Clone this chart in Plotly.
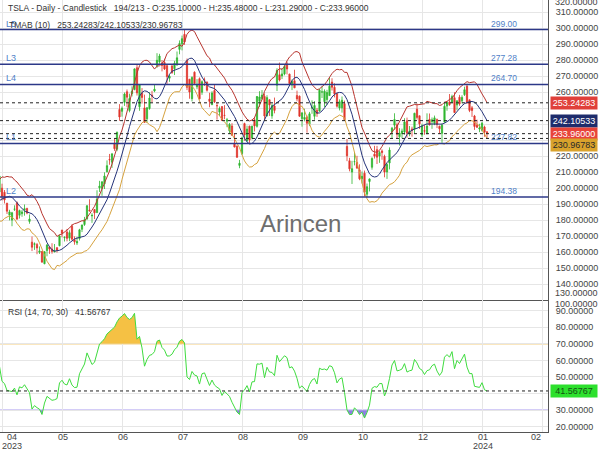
import numpy as np
import plotly.graph_objects as go

# ---------------- data ----------------
title_text = "TSLA - Daily - Candlestick\u00a0\u00a0\u00a0194/213 - O:235.10000 - H:235.48000 - L:231.29000 - C:233.96000"
tmab_text = "TMAB (10)\u00a0\u00a0\u00a0253.24283/242.10533/230.96783"
rsi_text = "RSI (14, 70, 30)\u00a0\u00a0\u00a041.56767"

# warm-up bars (March 2023, left of the visible window) for the indicators
warm_open = [206.21,186.74,194.80,198.54,191.38,185.04,180.25,175.13,167.46,177.31,180.80,180.37,180.25,178.08,188.28,199.30,194.42,191.65,194.42,192.00,193.13,195.58,197.53]
warm_high = [207.20,193.75,200.48,198.60,194.20,186.50,185.18,178.29,177.35,183.80,182.34,185.81,186.22,186.44,198.00,200.66,199.31,192.36,197.39,192.35,195.29,197.33,207.79]
warm_low = [198.52,186.01,192.88,192.30,186.10,180.00,172.51,168.44,163.91,177.14,176.03,178.84,177.33,176.35,188.04,190.95,188.65,187.15,189.94,185.43,189.44,194.42,197.20]
warm_close = [202.77,190.90,197.79,193.81,187.71,182.00,172.92,173.44,174.48,183.26,180.45,184.13,180.13,183.25,197.58,191.15,192.22,190.41,191.81,189.19,193.88,195.28,207.46]

# visible bars: 2023-04-03 ... 2024-01-10
opens = [199.91,197.32,190.52,183.08,179.94,186.69,190.74,182.96,183.95,186.32,187.15,179.10,166.17,164.80,164.65,159.82,160.29,152.64,160.90,
         163.17,161.88,160.01,162.71,163.97,173.72,168.95,172.55,168.70,176.07,167.66,165.65,168.41,174.22,177.17,180.70,186.20,182.56,186.54,184.62,200.10,199.78,
         202.59,210.15,217.80,216.14,228.00,224.22,249.07,247.94,253.51,260.17,248.40,258.92,261.50,275.13,250.77,259.29,250.07,243.24,249.70,258.03,260.60,
         276.49,278.82,278.09,278.43,276.47,268.65,276.33,274.59,277.01,286.63,290.15,296.04,279.56,268.00,255.85,272.38,263.25,268.31,259.86,267.48,
         266.26,255.57,252.04,260.97,251.45,247.45,250.87,245.40,241.77,235.70,238.73,228.02,226.06,214.12,221.55,240.25,229.34,238.66,231.31,242.58,238.58,254.20,255.98,
         257.26,245.00,255.14,245.07,251.22,264.27,270.76,270.07,271.32,277.55,271.16,264.35,267.04,257.85,257.40,243.38,242.98,244.26,240.02,250.00,
         244.81,248.61,248.14,260.00,253.98,255.31,257.75,266.20,262.92,258.90,250.05,250.10,252.70,225.95,217.01,210.00,216.50,215.88,211.32,205.82,209.28,196.12,
         204.04,212.97,221.15,223.98,219.98,223.15,219.75,210.03,215.60,235.03,239.29,239.49,232.00,234.04,235.04,242.04,233.75,236.89,236.68,249.21,245.14,
         233.14,235.75,233.87,242.92,241.55,240.27,242.74,238.55,234.15,241.22,251.21,253.78,253.48,256.41,251.90,256.76,254.49,258.35,263.66,255.10,
         250.08,244.98,239.25,236.86,236.14,238.11,235.10]
highs = [202.69,198.74,190.68,186.39,185.10,189.19,191.58,186.50,186.28,189.69,187.69,183.50,169.70,166.00,165.65,163.47,160.67,160.48,165.00,
         163.28,165.49,165.00,162.95,170.79,173.80,169.82,174.43,173.57,177.38,169.76,169.52,174.50,177.06,181.95,189.32,192.96,184.22,186.78,198.60,204.48,203.95,
         209.80,217.25,221.29,221.91,230.83,235.23,252.42,250.97,259.68,261.57,258.95,263.60,274.75,276.99,265.00,262.45,258.37,250.39,259.88,260.74,264.45,
         284.25,283.85,279.97,280.78,277.52,270.90,276.52,279.45,285.30,292.23,295.26,299.29,280.93,268.00,269.85,272.90,268.04,269.13,267.25,269.08,
         266.47,259.52,260.49,264.77,253.65,250.92,251.10,251.80,243.79,240.66,240.50,233.97,226.74,217.58,232.13,240.82,238.98,238.92,239.00,244.38,257.48,260.51,261.18,
         259.08,258.00,255.39,252.81,256.52,274.85,278.39,274.98,276.71,278.98,271.44,267.85,273.93,260.86,257.79,247.10,249.55,245.33,247.55,254.77,
         254.28,250.02,261.86,263.60,261.65,261.36,268.94,268.60,265.41,259.60,255.40,257.18,254.63,230.61,218.86,216.98,222.05,220.10,214.80,210.32,210.88,202.80,
         205.99,219.20,226.37,226.32,223.12,224.15,220.80,215.38,225.40,238.14,246.70,240.88,237.39,237.10,243.62,244.01,238.75,238.33,247.00,252.75,245.22,
         240.19,239.37,246.66,246.57,244.08,245.27,243.44,238.99,240.30,253.88,254.13,258.74,258.34,259.84,254.80,258.22,257.97,263.34,265.13,255.19,
         251.25,245.68,242.70,240.12,241.25,238.96,235.48]
lows = [192.20,190.32,183.76,179.74,176.11,185.65,180.31,180.94,182.01,182.69,183.58,177.65,160.56,161.32,158.61,158.75,153.14,152.37,157.32,
        158.83,158.93,159.91,159.65,163.51,169.19,166.56,166.68,166.79,167.23,164.55,164.35,167.19,172.45,176.31,180.11,185.26,178.22,180.58,184.53,197.53,195.12,
        199.37,209.75,214.52,212.53,223.20,223.01,242.02,244.59,251.34,250.50,247.29,257.21,261.12,257.78,248.25,252.80,240.70,240.85,248.89,253.61,259.89,
        275.11,277.60,272.88,273.77,265.10,266.37,271.46,270.60,276.31,283.57,286.01,289.52,261.20,255.80,254.12,265.00,261.75,255.30,258.23,263.78,
        260.25,250.49,252.00,253.11,242.76,245.01,241.90,243.00,238.02,233.75,232.61,225.38,218.83,212.36,220.58,229.55,229.29,228.18,230.35,235.35,237.77,250.59,255.05,
        242.01,244.86,245.06,243.27,246.67,260.61,266.60,268.10,270.42,271.00,263.76,261.20,262.46,254.21,244.48,238.31,241.66,234.58,238.65,246.35,
        242.62,244.45,247.60,256.25,250.65,252.05,257.65,260.90,256.63,250.22,248.48,247.08,242.08,216.78,210.42,202.51,214.11,212.20,204.88,202.80,194.67,194.07,
        197.85,211.45,218.40,215.00,215.72,217.64,206.68,205.69,211.61,230.72,236.45,230.96,226.54,231.02,233.34,231.40,232.33,232.10,234.01,242.76,236.91,
        231.90,233.29,233.70,239.17,236.98,239.27,237.45,233.87,228.20,240.79,248.30,251.36,253.01,247.00,248.55,251.37,252.91,257.52,252.71,247.43,
        244.41,236.32,237.73,234.90,235.30,232.04,231.29]
closes = [194.77,192.58,185.52,185.06,184.51,186.79,180.54,185.90,185.00,187.04,184.31,180.59,162.99,165.08,162.55,160.67,153.75,160.19,164.31,
          161.83,160.31,160.61,161.20,170.06,171.79,169.15,168.54,172.08,167.98,166.35,166.52,173.86,176.89,180.14,188.87,185.77,182.90,184.47,193.17,201.16,203.93,
          207.52,213.97,217.61,221.31,224.57,234.86,244.40,249.83,258.71,256.79,255.90,260.54,274.45,259.46,264.61,256.60,241.05,250.21,256.24,257.50,261.77,
          279.82,282.48,276.54,274.43,269.61,269.79,271.99,277.90,281.38,290.38,293.34,291.26,262.90,260.02,269.06,265.28,264.35,255.71,266.44,267.43,
          261.07,254.11,259.32,253.86,251.45,249.70,242.19,245.34,242.65,239.76,232.96,225.60,219.22,215.49,231.28,233.19,236.86,230.04,238.59,238.82,257.18,256.90,258.08,
          245.01,256.49,251.92,251.49,248.50,273.58,267.48,271.30,276.04,274.39,265.28,266.50,262.59,255.70,244.88,246.99,244.12,240.50,246.38,250.22,
          251.60,246.53,261.16,260.05,260.53,259.67,263.62,262.99,258.87,251.12,253.92,254.85,242.68,220.11,211.99,212.08,216.52,212.42,205.76,207.30,197.36,200.84,
          205.66,218.51,219.96,219.27,222.18,222.11,209.98,214.65,223.71,237.41,242.84,233.59,234.30,235.60,241.20,234.21,235.45,236.08,246.72,244.14,240.08,
          238.83,235.58,238.72,239.37,242.64,243.84,239.74,237.01,239.29,251.05,253.50,252.08,257.22,247.14,254.50,252.54,256.61,261.44,253.18,248.48,
          248.42,238.45,237.93,237.49,240.45,234.96,233.96]

# support / resistance levels
level_names = ["L1", "L2", "L3", "L4", "L5"]
level_values = [227.82, 194.38, 277.28, 264.70, 299.00]

# last indicator values shown in the price scale
last_upper, last_mid, last_close, last_lower = 253.24283, 242.10533, 233.96000, 230.96783
last_rsi = 41.56767

# x-axis tick labels (one every 24 bars): month, year (if any)
xtick_months = ["04", "05", "06", "07", "08", "09", "10", "12", "01", "02"]
xtick_years = ["2023", "", "", "", "", "", "", "", "2024", ""]
price_ticks = [140, 150, 160, 170, 180, 190, 200, 210, 220, 230, 240, 250, 260, 270, 280, 290, 300, 310]
rsi_ticks = [20, 30, 40, 50, 60, 70, 80, 90]

# ---------------- indicators ----------------
o = np.array(warm_open + opens, float)
h = np.array(warm_high + highs, float)
l = np.array(warm_low + lows, float)
c = np.array(warm_close + closes, float)
nw = len(warm_close)
idx = np.arange(len(c)) - nw


def sma(a, n):
    out = np.full(len(a), np.nan)
    for i in range(len(a)):
        if i >= n - 1:
            w = a[i - n + 1:i + 1]
            if not np.any(np.isnan(w)):
                out[i] = w.mean()
    return out


tma = sma(sma(c, 5), 6)
prev = np.concatenate([[c[0]], c[:-1]])
tr = np.maximum(h - l, np.maximum(np.abs(h - prev), np.abs(l - prev)))
atr = sma(tr, 10)
upper = tma + 1.5 * atr
lower = tma - 1.5 * atr

d = np.diff(c)
g = np.clip(d, 0, None)
ls = np.clip(-d, 0, None)
rsi = np.full(len(c), np.nan)
ag, al = g[:14].mean(), ls[:14].mean()
rsi[14] = 100 - 100 / (1 + ag / al)
for i in range(14, len(d)):
    ag = (ag * 13 + g[i]) / 14
    al = (al * 13 + ls[i]) / 14
    rsi[i + 1] = 100 - 100 / (1 + ag / al)


def clip_series(xs, ys, level, above):
    X, Y = [], []
    for i in range(len(xs)):
        if i > 0:
            y0, y1 = ys[i - 1], ys[i]
            if (y0 - level) * (y1 - level) < 0:
                t = (level - y0) / (y1 - y0)
                X.append(xs[i - 1] + t * (xs[i] - xs[i - 1]))
                Y.append(level)
        X.append(xs[i])
        Y.append(max(ys[i], level) if above else min(ys[i], level))
    return X, Y


# ---------------- figure ----------------
GREEN = "#2fb52f"
RED = "#e0352b"
PW, PH = 548.0, 432.0
SPLIT = 300.0


def px(xp):
    return xp / PW


def py(yp):
    return 1 - yp / PH


fig = go.Figure()

fig.add_trace(go.Candlestick(
    x=idx, open=o, high=h, low=l, close=c,
    increasing=dict(line=dict(color=GREEN, width=0.8), fillcolor=GREEN),
    decreasing=dict(line=dict(color=RED, width=0.8), fillcolor=RED),
    whiskerwidth=0, xaxis="x", yaxis="y", hoverinfo="skip"))

valid = ~np.isnan(upper)
fig.add_trace(go.Scatter(x=idx[valid], y=upper[valid], mode="lines", line=dict(color="#b8352f", width=1), xaxis="x", yaxis="y"))
fig.add_trace(go.Scatter(x=idx[valid], y=tma[valid], mode="lines", line=dict(color="#26347a", width=1), xaxis="x", yaxis="y"))
fig.add_trace(go.Scatter(x=idx[valid], y=lower[valid], mode="lines", line=dict(color="#d6a23e", width=1), xaxis="x", yaxis="y"))

rv = ~np.isnan(rsi)
rx, ry = list(idx[rv]), list(rsi[rv])
X70, Y70 = clip_series(rx, ry, 70, True)
X30, Y30 = clip_series(rx, ry, 30, False)
fig.add_trace(go.Scatter(x=X70, y=[70] * len(X70), mode="lines", line=dict(width=0), xaxis="x2", yaxis="y2"))
fig.add_trace(go.Scatter(x=X70, y=Y70, mode="lines", line=dict(width=0), fill="tonexty", fillcolor="#f5c144", xaxis="x2", yaxis="y2"))
fig.add_trace(go.Scatter(x=X30, y=[30] * len(X30), mode="lines", line=dict(width=0), xaxis="x2", yaxis="y2"))
fig.add_trace(go.Scatter(x=X30, y=Y30, mode="lines", line=dict(width=0), fill="tonexty", fillcolor="#8e7fe2", xaxis="x2", yaxis="y2"))
fig.add_trace(go.Scatter(x=rx, y=ry, mode="lines", line=dict(color="#3fdc3f", width=1), xaxis="x2", yaxis="y2"))

shapes = []
for v in level_values:
    shapes.append(dict(type="line", xref="paper", x0=0, x1=1, yref="y", y0=v, y1=v,
                       line=dict(color="#2c3888", width=1.5)))
for v in [last_upper, last_mid, last_close, last_lower]:
    shapes.append(dict(type="line", xref="paper", x0=0, x1=1, yref="y", y0=v, y1=v,
                       line=dict(color="#222222", width=1, dash="3px,3px")))
shapes.append(dict(type="line", xref="paper", x0=0, x1=1, yref="y2", y0=70, y1=70, layer="below",
                   line=dict(color="#f6cf80", width=1.5)))
shapes.append(dict(type="line", xref="paper", x0=0, x1=1, yref="y2", y0=30, y1=30, layer="below",
                   line=dict(color="#a99bf0", width=1.5)))
shapes.append(dict(type="line", xref="paper", x0=0, x1=1, yref="y2", y0=last_rsi, y1=last_rsi,
                   line=dict(color="#222222", width=1, dash="3px,3px")))

FONT = "Liberation Sans, Arial, sans-serif"
ann = []
LBL = "#4f7fc8"
for name, v in zip(level_names, level_values):
    ann.append(dict(xref="paper", x=px(4), yref="y", y=v, yanchor="bottom", xanchor="left", yshift=-1,
                    text=name, showarrow=False, font=dict(family=FONT, size=9, color=LBL)))
    ann.append(dict(xref="paper", x=px(504), yref="y", y=v, yanchor="bottom", xanchor="center", yshift=-1,
                    text=f"{v:.2f}", showarrow=False, font=dict(family=FONT, size=8.5, color=LBL)))

ann.append(dict(xref="paper", yref="paper", x=px(6), y=py(8), xanchor="left", yanchor="middle",
                text=title_text, showarrow=False, font=dict(family=FONT, size=8.5, color="#333333")))
ann.append(dict(xref="paper", yref="paper", x=px(7), y=py(25), xanchor="left", yanchor="middle",
                text=tmab_text, showarrow=False, font=dict(family=FONT, size=8.5, color="#333333")))
ann.append(dict(xref="paper", yref="paper", x=px(6), y=py(311.5), xanchor="left", yanchor="middle",
                text=rsi_text, showarrow=False, font=dict(family=FONT, size=8.5, color="#333333")))
ann.append(dict(xref="paper", yref="paper", x=px(300), y=py(223), xanchor="center", yanchor="middle",
                text="Arincen", showarrow=False, font=dict(family=FONT, size=24, color="#6e6e6e")))

# price-scale boxes
boxes = [(last_upper, "#e0403a", "white", 0, "y"), (last_mid, "#1e2c6c", "white", 0, "y"),
         (last_close, "#e8443a", "white", 0, "y"), (last_lower, "#d9a22c", "#2a2a2a", -7, "y"),
         (last_rsi, "#2de02d", "#145214", 0, "y2")]
for v, bg, fc, ys, yr in boxes:
    ann.append(dict(xref="paper", x=1, xshift=2, xanchor="left", yref=yr, y=v, yanchor="middle", yshift=ys,
                    text=f"{v:.5f}", showarrow=False, bgcolor=bg, width=46, height=12, borderpad=0,
                    font=dict(family=FONT, size=9, color=fc)))

# edge labels of the price scales (clamped by the panels)
for txt, yp in [("320.00000", 2), ("130.00000", 292.5), ("100.00000", 303.5)]:
    ann.append(dict(xref="paper", x=1, xshift=5, xanchor="left", yref="paper", y=py(yp), yanchor="middle",
                    text=txt, showarrow=False, font=dict(family=FONT, size=9, color="#444444")))

# x labels (month line + year line)
xt_idx = [24 * i for i in range(len(xtick_months))]
for i, (xi, m, yr) in enumerate(zip(xt_idx, xtick_months, xtick_years)):
    xc = 2 + xi * 2.5 + 1
    if i == 0:
        xc = 11.5
    elif i == len(xtick_months) - 1:
        xc = 536
    ann.append(dict(xref="paper", x=px(xc), yref="paper", y=py(437.5), xanchor="center", yanchor="middle",
                    text=m, showarrow=False, font=dict(family=FONT, size=9, color="#444444")))
    if yr:
        ann.append(dict(xref="paper", x=px(xc), yref="paper", y=py(445.5), xanchor="center", yanchor="middle",
                        text=yr, showarrow=False, font=dict(family=FONT, size=9, color="#444444")))

GRID = "#e6e6e6"
hide = {230, 240, 250}
fig.update_layout(
    width=600, height=450, margin=dict(l=0, r=52, t=0, b=18),
    paper_bgcolor="white", plot_bgcolor="white", showlegend=False, hovermode=False,
    shapes=shapes, annotations=ann,
    xaxis=dict(domain=[0, 1], anchor="y", range=[-0.8, 218.4], tickvals=xt_idx, showticklabels=False,
               showgrid=True, gridcolor=GRID, gridwidth=1, zeroline=False, showline=True, linecolor="#555555",
               linewidth=1, rangeslider=dict(visible=False), ticks=""),
    xaxis2=dict(domain=[0, 1], anchor="y2", matches="x", range=[-0.8, 218.4], tickvals=xt_idx, showticklabels=False,
                showgrid=True, gridcolor=GRID, zeroline=False, showline=True, linecolor="#555555", linewidth=1, ticks=""),
    yaxis=dict(domain=[(PH - SPLIT) / PH, 1], anchor="x", range=[130, 317.5], side="right",
               tickvals=price_ticks, ticktext=["" if t in hide else f"{t:.5f}" for t in price_ticks],
               showgrid=True, gridcolor=GRID, zeroline=False, showline=True, linecolor="#555555", linewidth=1,
               ticks="", ticklabelstandoff=5, tickfont=dict(family=FONT, size=9, color="#444444")),
    yaxis2=dict(domain=[0, (PH - SPLIT) / PH], anchor="x2", range=[16.8, 96.46], side="right",
                tickvals=rsi_ticks, ticktext=["" if t == 40 else f"{t:.5f}" for t in rsi_ticks],
                showgrid=True, gridcolor=GRID, zeroline=False, showline=True, linecolor="#555555", linewidth=1,
                ticks="", ticklabelstandoff=5, tickfont=dict(family=FONT, size=9, color="#444444")),
)

fig.write_html("out.html")
